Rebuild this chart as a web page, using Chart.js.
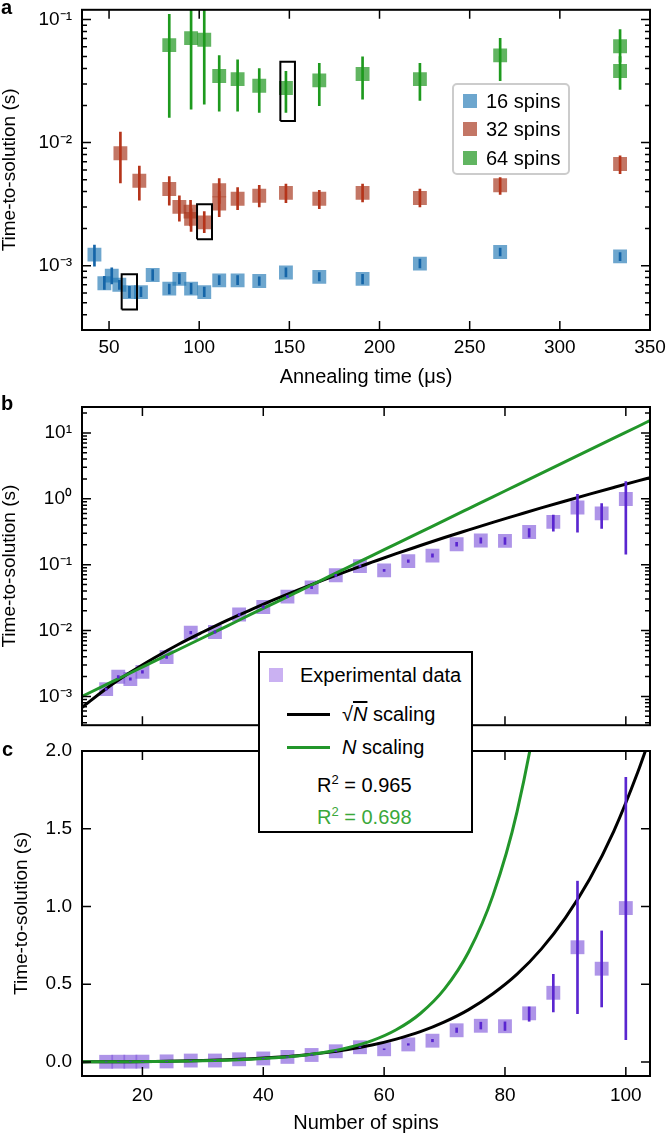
<!DOCTYPE html>
<html>
<head>
<meta charset="utf-8">
<script src="https://cdn.jsdelivr.net/npm/chart.js@4.4.1/dist/chart.umd.min.js"></script>
<style>
  body { margin: 0; background: #fff; font-family: "Liberation Sans", Arial, sans-serif; color: #000; }
  #page { position: relative; width: 666px; height: 1135px; overflow: hidden; }
  canvas { position: absolute; left: 0; }
  .tag { position: absolute; font-weight: bold; font-size: 20px; line-height: 20px; }
  .legend { position: absolute; background: #fff; font-size: 20px; z-index: 5; }
  .legend .row { position: absolute; line-height: 24px; white-space: nowrap; }
  .legend .sq { position: absolute; width: 14px; height: 14px; }
  .legend .ln { position: absolute; height: 3px; }
</style>
</head>
<body>
<div id="page">
  <canvas id="chartA" width="666" height="395" style="top:0"></canvas>
  <canvas id="chartB" width="666" height="345" style="top:390px"></canvas>
  <canvas id="chartC" width="666" height="395" style="top:740px"></canvas>

  <div class="tag" style="left:1px; top:-3px">a</div>
  <div class="tag" style="left:1px; top:393px">b</div>
  <div class="tag" style="left:2px; top:739px">c</div>

  <!-- legend of panel a -->
  <div class="legend" style="left:452px; top:83px; width:114px; height:88px; border:2px solid #ccc; border-radius:5px; background:rgba(255,255,255,0.85)">
    <div class="sq" style="left:9px; top:9px; background:rgba(31,119,180,0.65)"></div>
    <div class="row" style="left:32px; top:4px">16 spins</div>
    <div class="sq" style="left:9px; top:37px; background:rgba(170,60,35,0.7)"></div>
    <div class="row" style="left:32px; top:32px">32 spins</div>
    <div class="sq" style="left:9px; top:66px; background:rgba(30,150,30,0.7)"></div>
    <div class="row" style="left:32px; top:61px">64 spins</div>
  </div>

  <!-- legend shared by panels b and c -->
  <div class="legend" style="left:258px; top:651px; width:211px; height:178px; border:2px solid #000">
    <div class="sq" style="left:9px; top:15px; background:rgba(150,100,230,0.5)"></div>
    <div class="row" style="left:40px; top:10px">Experimental data</div>
    <div class="ln" style="left:27px; top:60px; width:43px; background:#000"></div>
    <div class="row" style="left:82px; top:49px">√<span style="font-style:italic; text-decoration:overline">N</span> scaling</div>
    <div class="ln" style="left:27px; top:93px; width:43px; background:#22962a"></div>
    <div class="row" style="left:82px; top:82px"><i>N</i> scaling</div>
    <div class="row" style="left:57px; top:115px">R<sup style="font-size:13px">2</sup> = 0.965</div>
    <div class="row" style="left:57px; top:147px; color:#3aa83a">R<sup style="font-size:13px">2</sup> = 0.698</div>
  </div>
</div>

<script>
// ---- panel a: time-to-solution vs annealing time ----
const anneal16 = [41.9, 47.4, 51.5, 55.7, 61.3, 67.7, 74.2, 83.4, 89.0, 95.5, 102.8, 111.1, 121.3, 133.3, 148.1, 166.6, 190.6, 222.4, 266.9, 333.4];
const tts16    = [1.23e-3, 7.2e-4, 8.3e-4, 7.0e-4, 6.1e-4, 6.1e-4, 8.4e-4, 6.5e-4, 7.8e-4, 6.5e-4, 6.1e-4, 7.6e-4, 7.6e-4, 7.5e-4, 8.8e-4, 8.1e-4, 7.8e-4, 1.04e-3, 1.29e-3, 1.19e-3];
const lo16     = [0.99e-3, 6.4e-4, 7.1e-4, 6.4e-4, 5.5e-4, 5.6e-4, 7.6e-4, 5.9e-4, 7.1e-4, 5.9e-4, 5.6e-4, 7.0e-4, 7.0e-4, 6.9e-4, 8.1e-4, 7.5e-4, 7.1e-4, 9.6e-4, 1.20e-3, 1.10e-3];
const hi16     = [1.47e-3, 8.2e-4, 9.6e-4, 7.6e-4, 6.8e-4, 6.7e-4, 9.3e-4, 7.1e-4, 8.6e-4, 7.2e-4, 6.7e-4, 8.3e-4, 8.3e-4, 8.1e-4, 9.6e-4, 8.8e-4, 8.5e-4, 1.13e-3, 1.39e-3, 1.28e-3];

const anneal32 = [56.3, 66.8, 83.4, 89.0, 95.2, 95.5, 102.8, 111.1, 111.1, 121.3, 133.3, 148.1, 166.6, 190.6, 222.4, 266.9, 333.4];
const tts32    = [8.2e-3, 4.9e-3, 4.2e-3, 3.0e-3, 2.75e-3, 2.4e-3, 2.25e-3, 4.1e-3, 3.2e-3, 3.5e-3, 3.7e-3, 3.9e-3, 3.5e-3, 3.9e-3, 3.55e-3, 4.5e-3, 6.7e-3];
const lo32     = [4.7e-3, 3.4e-3, 3.1e-3, 2.3e-3, 2.1e-3, 1.9e-3, 1.85e-3, 3.2e-3, 2.5e-3, 2.85e-3, 3.0e-3, 3.25e-3, 2.9e-3, 3.3e-3, 3.0e-3, 3.8e-3, 5.6e-3];
const hi32     = [1.22e-2, 6.45e-3, 5.3e-3, 3.7e-3, 3.4e-3, 2.9e-3, 2.75e-3, 5.1e-3, 4.0e-3, 4.3e-3, 4.5e-3, 4.6e-3, 4.1e-3, 4.6e-3, 4.2e-3, 5.2e-3, 7.8e-3];

const anneal64 = [83.4, 95.5, 102.8, 111.1, 121.3, 133.3, 148.1, 166.6, 190.6, 222.4, 266.9, 333.4, 333.4];
const tts64    = [0.062, 0.0706, 0.0685, 0.0348, 0.0328, 0.029, 0.0278, 0.032, 0.0361, 0.0328, 0.0512, 0.0607, 0.0382];
const lo64     = [0.016, 0.0187, 0.0205, 0.018, 0.018, 0.0176, 0.0176, 0.020, 0.0225, 0.022, 0.0318, 0.045, 0.027];
const hi64     = [0.11, 0.13, 0.13, 0.051, 0.047, 0.040, 0.038, 0.044, 0.0497, 0.044, 0.0703, 0.083, 0.05];

// highlighted optimum per size: [x0, x1, y0, y1]
const boxesA = [[57, 65.5, 4.4e-4, 8.5e-4], [98.8, 107.1, 1.64e-3, 3.16e-3], [145, 153.1, 0.015, 0.0453]];

const xTicksA = [50, 100, 150, 200, 250, 300, 350];
const yTicksA = [1e-3, 1e-2, 1e-1];

// ---- panels b and c: time-to-solution vs number of spins ----
const spins = [14, 16, 18, 20, 24, 28, 32, 36, 40, 44, 48, 52, 56, 60, 64, 68, 72, 76, 80, 84, 88, 92, 96, 100];
const ttsN  = [1.29e-3, 1.99e-3, 1.84e-3, 2.36e-3, 3.95e-3, 9.3e-3, 9.5e-3, 0.0175, 0.0228, 0.0328, 0.0451, 0.069, 0.095, 0.082, 0.113, 0.137, 0.204, 0.233, 0.23, 0.313, 0.445, 0.738, 0.60, 0.99];
const loN   = [1.24e-3, 1.9e-3, 1.76e-3, 2.26e-3, 3.78e-3, 8.9e-3, 9.1e-3, 0.0168, 0.0219, 0.0315, 0.0433, 0.0665, 0.092, 0.079, 0.108, 0.130, 0.190, 0.212, 0.203, 0.262, 0.322, 0.311, 0.354, 0.144];
const hiN   = [1.34e-3, 2.08e-3, 1.92e-3, 2.46e-3, 4.12e-3, 9.7e-3, 9.9e-3, 0.0182, 0.0237, 0.0341, 0.0469, 0.0715, 0.098, 0.085, 0.118, 0.146, 0.219, 0.256, 0.258, 0.354, 0.564, 1.163, 0.843, 1.83];

// fit curves
const fitSpins = [10, 14, 18, 22, 26, 30, 34, 38, 42, 46, 50, 54, 58, 62, 66, 70, 74, 78, 82, 86, 90, 94, 98, 102, 104];
const fitSqrt  = [6.8e-4, 1.31e-3, 2.32e-3, 3.87e-3, 6.2e-3, 9.5e-3, 0.0143, 0.0208, 0.0299, 0.0422, 0.0587, 0.0805, 0.109, 0.147, 0.195, 0.258, 0.337, 0.439, 0.565, 0.726, 0.927, 1.175, 1.483, 1.866, 2.086];
const fitLin   = [1.0e-3, 1.51e-3, 2.27e-3, 3.43e-3, 5.16e-3, 7.78e-3, 0.0117, 0.0177, 0.0266, 0.0401, 0.0605, 0.0912, 0.137, 0.207, 0.312, 0.470, 0.709, 1.07, 1.61, 2.43, 3.66, 5.51, 8.31, 12.5, 15.4];

const xTicksBC = [20, 40, 60, 80, 100];
const yTicksB  = [1e-3, 1e-2, 1e-1, 1, 10];
const yTicksC  = [0, 0.5, 1, 1.5, 2];

// ---- helpers ----
const tickFont  = { family: '"Liberation Sans", Arial, sans-serif', size: 19 };
const titleFont = { family: '"Liberation Sans", Arial, sans-serif', size: 20 };
const supMap = { '-': '⁻', '0': '⁰', '1': '¹', '2': '²', '3': '³', '4': '⁴', '5': '⁵', '6': '⁶', '7': '⁷', '8': '⁸', '9': '⁹' };
const powLabel = v => '10' + String(Math.round(Math.log10(v))).split('').map(c => supMap[c]).join('');

const pts  = (xs, ys) => xs.map((x, i) => ({ x, y: ys[i] }));
const bars = (xs, lo, hi) => xs.map((x, i) => ({ x, y: [lo[i], hi[i]] }));

const errSet = (xs, lo, hi, color) => ({
  type: 'bar', data: bars(xs, lo, hi), backgroundColor: color,
  borderWidth: 0, barThickness: 2, grouped: false
});
const markSet = (xs, ys, color) => ({
  type: 'scatter', data: pts(xs, ys), pointStyle: 'rect', pointRadius: 9.8, pointHoverRadius: 9.8,
  pointBackgroundColor: color, backgroundColor: color, pointBorderWidth: 0, borderWidth: 0
});
const fitSet = (xs, ys, color) => ({
  type: 'line', data: pts(xs, ys), borderColor: color, borderWidth: 3,
  pointRadius: 0, cubicInterpolationMode: 'monotone', fill: false
});
const boxSet = b => ({
  type: 'line', data: pts([b[0], b[1], b[1], b[0], b[0]], [b[2], b[2], b[3], b[3], b[2]]),
  borderColor: '#000', borderWidth: 2, pointRadius: 0, tension: 0, fill: false
});

// grid lines are hidden; tickLength only reserves space between frame and labels
function xAxis(min, max, ticks, o) {
  return {
    type: 'linear', min, max, offset: false,
    grid: { display: false, drawTicks: true, tickLength: o.gap }, border: { display: false },
    afterBuildTicks: ax => { ax.ticks = ticks.map(v => ({ value: v })); },
    afterFit: ax => { ax.height = o.height; ax.paddingLeft = 0; ax.paddingRight = 0; },
    ticks: { display: o.labels, autoSkip: false, maxRotation: 0, font: tickFont, color: '#000', padding: 0 },
    title: { display: !!o.title, text: o.title || '', font: titleFont, color: '#000', padding: { top: 0, bottom: o.titlePad || 0 } }
  };
}

function yAxis(type, min, max, ticks, fmt, titlePad) {
  return {
    type, min, max, beginAtZero: false,
    grid: { display: false, drawTicks: false }, border: { display: false },
    afterBuildTicks: ax => { ax.ticks = ticks.map(v => ({ value: v })); },
    afterFit: ax => { ax.width = 82; ax.paddingTop = 0; ax.paddingBottom = 0; },
    ticks: { font: tickFont, color: '#000', padding: 10, callback: fmt },
    title: { display: true, text: 'Time-to-solution (s)', color: '#000',
      font: { family: titleFont.family, size: 19, lineHeight: 1 }, padding: { top: titlePad, bottom: 0 } }
  };
}

// inward ticks on all four sides plus the box frame
const frameTicks = {
  id: 'frameTicks',
  afterDraw(chart) {
    const { ctx, chartArea: a, scales: { x, y } } = chart;
    ctx.save();
    ctx.strokeStyle = '#000';
    ctx.lineWidth = 1.5;
    ctx.beginPath();
    x.ticks.forEach(t => {
      const px = x.getPixelForValue(t.value);
      ctx.moveTo(px, a.bottom); ctx.lineTo(px, a.bottom - 9);
      ctx.moveTo(px, a.top);    ctx.lineTo(px, a.top + 9);
    });
    y.ticks.forEach(t => {
      const py = y.getPixelForValue(t.value);
      ctx.moveTo(a.left, py);  ctx.lineTo(a.left + 9, py);
      ctx.moveTo(a.right, py); ctx.lineTo(a.right - 9, py);
    });
    if (y.type === 'logarithmic') {
      for (let d = Math.floor(Math.log10(y.min)); d <= Math.ceil(Math.log10(y.max)); d++) {
        for (let m = 2; m <= 9; m++) {
          const v = m * Math.pow(10, d);
          if (v <= y.min || v >= y.max) continue;
          const py = y.getPixelForValue(v);
          ctx.moveTo(a.left, py);  ctx.lineTo(a.left + 5, py);
          ctx.moveTo(a.right, py); ctx.lineTo(a.right - 5, py);
        }
      }
    }
    ctx.stroke();
    ctx.lineWidth = 2;
    ctx.strokeRect(a.left, a.top, a.right - a.left, a.bottom - a.top);
    ctx.restore();
  }
};

const baseOptions = (padTop, x, y) => ({
  responsive: false,
  animation: false,
  layout: { padding: { top: padTop, right: 16, left: 0, bottom: 0 } },
  plugins: { legend: { display: false }, tooltip: { enabled: false } },
  scales: { x, y }
});

// Panel a
new Chart(document.getElementById('chartA'), {
  type: 'scatter',
  data: {
    datasets: [
      ...boxesA.map(boxSet),
      errSet(anneal16, lo16, hi16, '#1565a8'),
      errSet(anneal32, lo32, hi32, '#b5341a'),
      errSet(anneal64, lo64, hi64, '#1e9a1e'),
      markSet(anneal16, tts16, 'rgba(31,119,180,0.65)'),
      markSet(anneal32, tts32, 'rgba(170,60,35,0.7)'),
      markSet(anneal64, tts64, 'rgba(30,150,30,0.7)')
    ]
  },
  options: baseOptions(5,
    xAxis(35, 350, xTicksA, { height: 65, labels: true, gap: 6, title: 'Annealing time (μs)', titlePad: 6 }),
    yAxis('logarithmic', 3.16e-4, 0.12, yTicksA, powLabel, 0)),
  plugins: [frameTicks]
});

// Panel b (log)
new Chart(document.getElementById('chartB'), {
  type: 'scatter',
  data: {
    datasets: [
      errSet(spins, loN, hiN, '#5a26d0'),
      fitSet(fitSpins, fitLin, '#22962a'),
      fitSet(fitSpins, fitSqrt, '#000'),
      markSet(spins, ttsN, 'rgba(130,90,220,0.65)')
    ]
  },
  options: baseOptions(17,
    xAxis(10, 104, xTicksBC, { height: 4, labels: false, gap: 0 }),
    yAxis('logarithmic', 3.66e-4, 24.7, yTicksB, powLabel, 0)),
  plugins: [frameTicks]
});

// Panel c (linear)
new Chart(document.getElementById('chartC'), {
  type: 'scatter',
  data: {
    datasets: [
      errSet(spins, loN, hiN, '#5a26d0'),
      fitSet(fitSpins, fitLin, '#22962a'),
      fitSet(fitSpins, fitSqrt, '#000'),
      markSet(spins, ttsN, 'rgba(130,90,220,0.65)')
    ]
  },
  options: baseOptions(11,
    xAxis(10, 104, xTicksBC, { height: 59, labels: true, gap: 8, title: 'Number of spins', titlePad: 0 }),
    yAxis('linear', -0.09, 2.0, yTicksC, v => v.toFixed(1), 12)),
  plugins: [frameTicks]
});
</script>
</body>
</html>
